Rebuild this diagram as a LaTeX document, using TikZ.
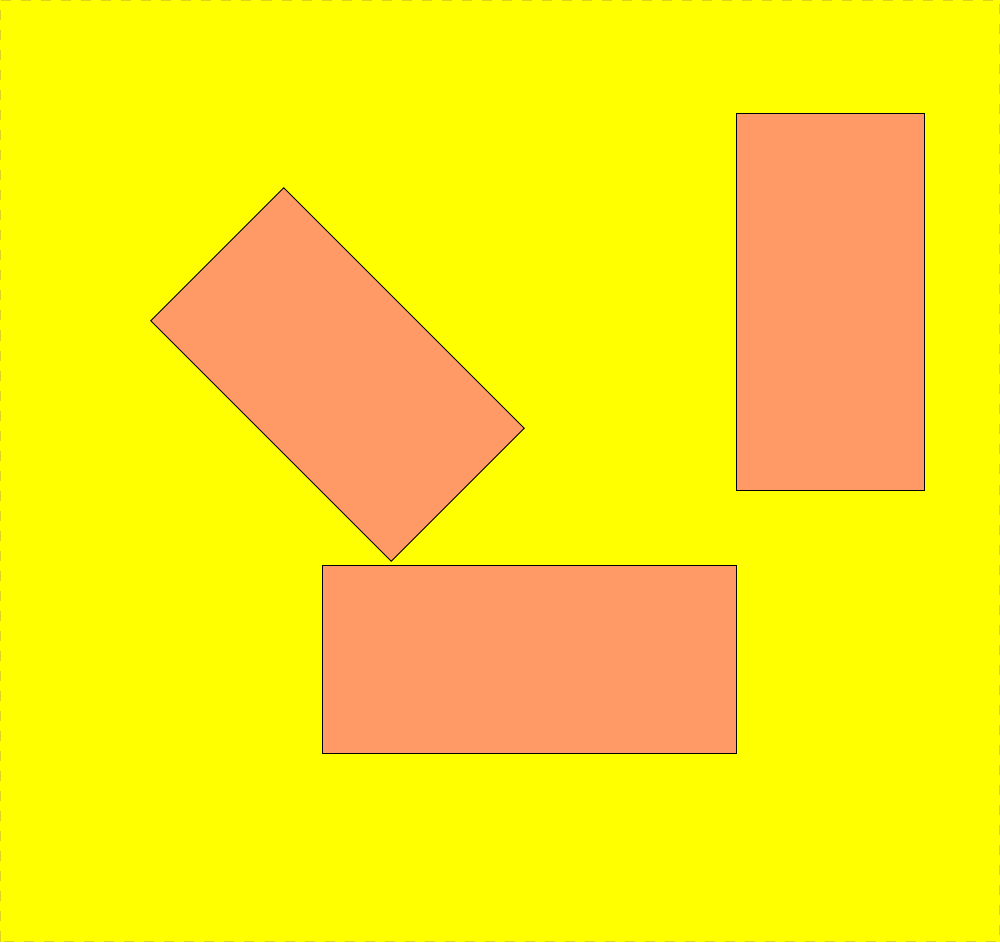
\documentclass[tikz,border=0pt]{standalone}
\usepackage{tikz}
\definecolor{salmonfill}{HTML}{FF9966}
\definecolor{bgyellow}{HTML}{FFFF00}
\begin{document}
\begin{tikzpicture}[block/.style={draw=black, line width=0.5pt, fill=salmonfill, inner sep=0pt, outer sep=0pt}]
	% === 背景 ===
	\fill[bgyellow] (0,0) rectangle (20,18.84);
	\draw[yellow!85!black, line width=0.5pt, dash pattern=on 5.7pt off 5.7pt] (0.01,0.01) rectangle (19.99,18.83);
	\useasboundingbox (0,0) rectangle (20,18.84);
	
	% === 矩形块 ===
	\node[block, minimum width=6.8cm, minimum height=3.76cm, rotate=-45] (tilted) at (6.75,11.35) {};
	\node[block, minimum width=3.76cm, minimum height=7.54cm] (upright) at (16.6,12.81) {};
	\node[block, minimum width=8.28cm, minimum height=3.76cm] (flat) at (10.58,5.66) {};
\end{tikzpicture}
\end{document}
